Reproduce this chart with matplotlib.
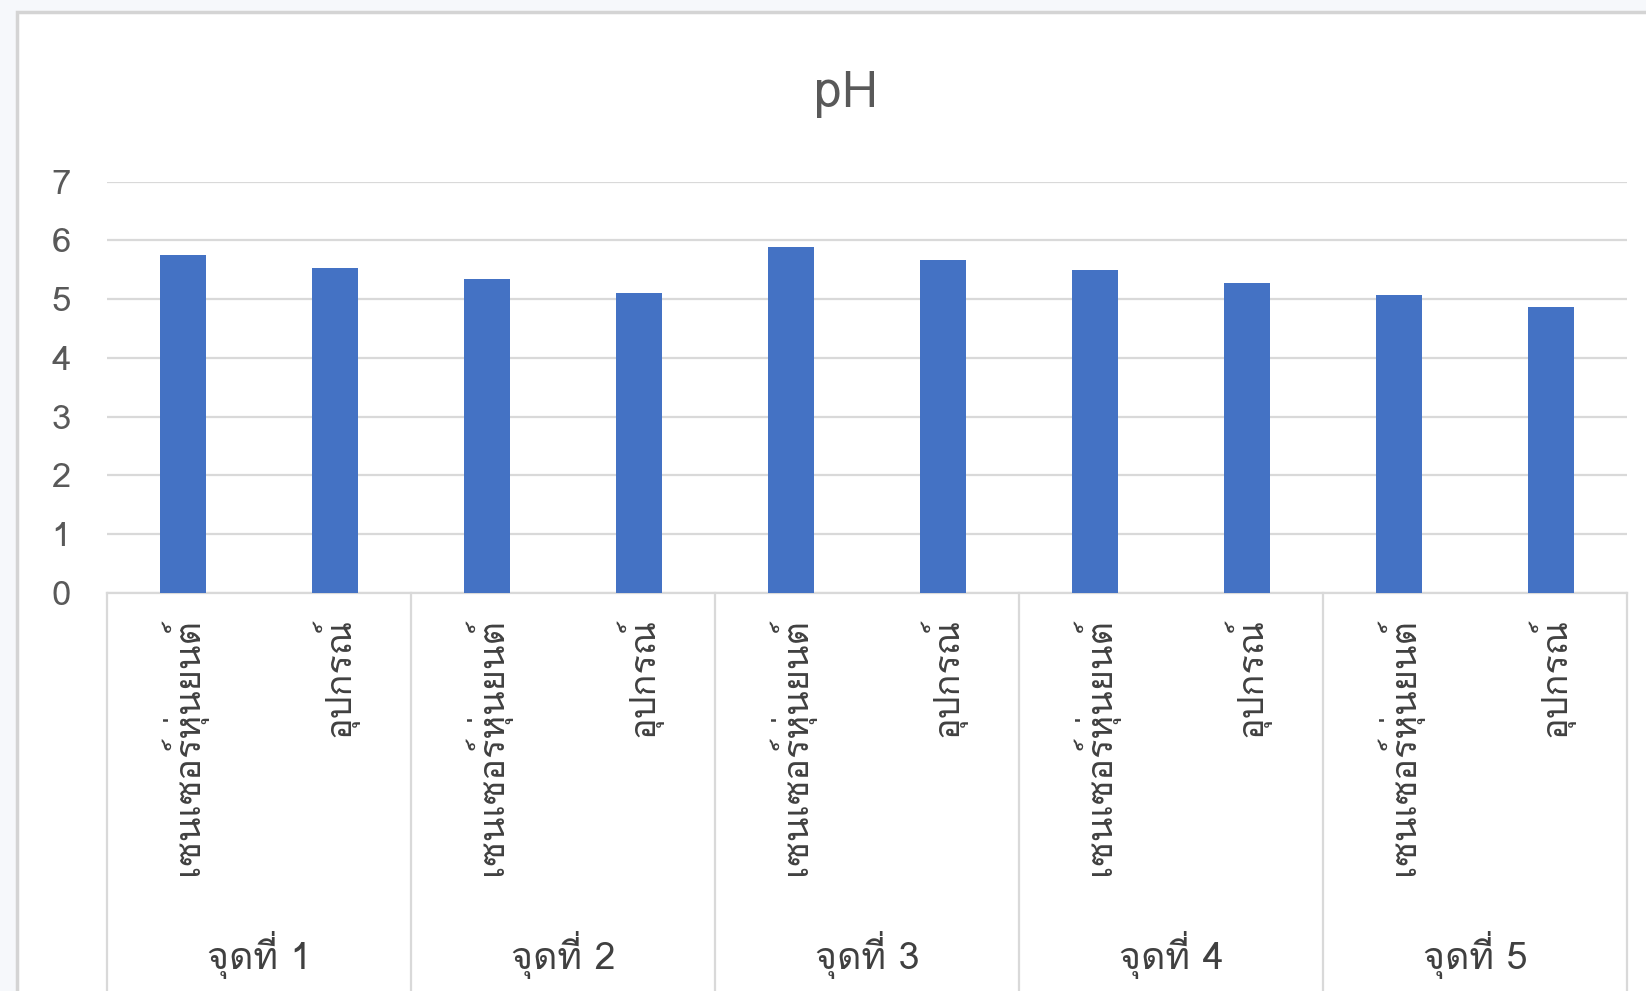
import matplotlib
matplotlib.use("Agg")
import matplotlib.pyplot as plt
from matplotlib import font_manager
from matplotlib.ft2font import FT2Font
from matplotlib.patches import Rectangle

# chart data
groups = ["จุดที่ 1", "จุดที่ 2", "จุดที่ 3", "จุดที่ 4", "จุดที่ 5"]
sources = ["เซนเซอร์หุ่นยนต์", "อุปกรณ์"]
ph_values = [5.75, 5.53, 5.34, 5.11, 5.89, 5.67, 5.49, 5.27, 5.07, 4.86]
y_ticks = [0, 1, 2, 3, 4, 5, 6, 7]


def find_thai_fonts():
    # first installed family that has Thai glyphs
    names = []
    for f in font_manager.fontManager.ttflist:
        try:
            cmap = FT2Font(f.fname).get_charmap()
        except Exception:
            continue
        if 0x0E40 in cmap and f.name not in names:
            names.append(f.name)
    return names


thai_fonts = find_thai_fonts()
plt.rcParams['font.family'] = thai_fonts[:1] + ['Noto Sans', 'DejaVu Sans']

W, H, DPI = 1646, 991, 100
fig = plt.figure(figsize=(W / DPI, H / DPI), dpi=DPI, facecolor='#f6f8fb')

# chart frame (white card, cut off on right and bottom like the screenshot)
fig.patches.append(Rectangle((17 / W, -0.05), 1.1, 1 - 12 / H + 0.05,
                             transform=fig.transFigure, facecolor='white',
                             edgecolor='#d4d4d4', linewidth=2.5, zorder=-5))

ax = fig.add_axes([107 / W, 1 - 593 / H, 1520 / W, 411.3 / H])
ax.set_facecolor('none')

x = list(range(len(ph_values)))
ax.bar(x, ph_values, width=0.30, color='#4472C4', zorder=3)

ax.set_xlim(-0.5, len(ph_values) - 0.5)
ax.set_ylim(0, 7)
ax.set_yticks(y_ticks)
ax.tick_params(axis='y', length=0, labelsize=25, labelcolor='#595959', pad=26)
ax.grid(axis='y', color='#d9d9d9', linewidth=1.6, zorder=0)
ax.set_axisbelow(True)
for s in ['top', 'right', 'left']:
    ax.spines[s].set_visible(False)
ax.spines['bottom'].set_color('#d9d9d9')
ax.spines['bottom'].set_linewidth(1.6)

labels = [sources[i % 2] for i in x]
ax.set_xticks(x)
ax.set_xticklabels(labels, rotation=90, va='top', ha='center', fontsize=26, color='#404040')
ax.tick_params(axis='x', length=0, pad=18)

# group separators and group labels below the category labels
trans = ax.get_xaxis_transform()
for k in range(len(groups) + 1):
    ax.plot([k * 2 - 0.5] * 2, [0, -1.05], transform=trans, color='#d9d9d9',
            linewidth=1.6, clip_on=False)
for k, g in enumerate(groups):
    ax.text(k * 2 + 0.5, -0.88, g, transform=trans, ha='center', va='center',
            fontsize=27, color='#404040')

fig.text(846 / W, 1 - 95 / H, "pH", ha='center', va='center', fontsize=36, color='#595959')

fig.savefig("out.png", dpi=DPI, facecolor=fig.get_facecolor())
